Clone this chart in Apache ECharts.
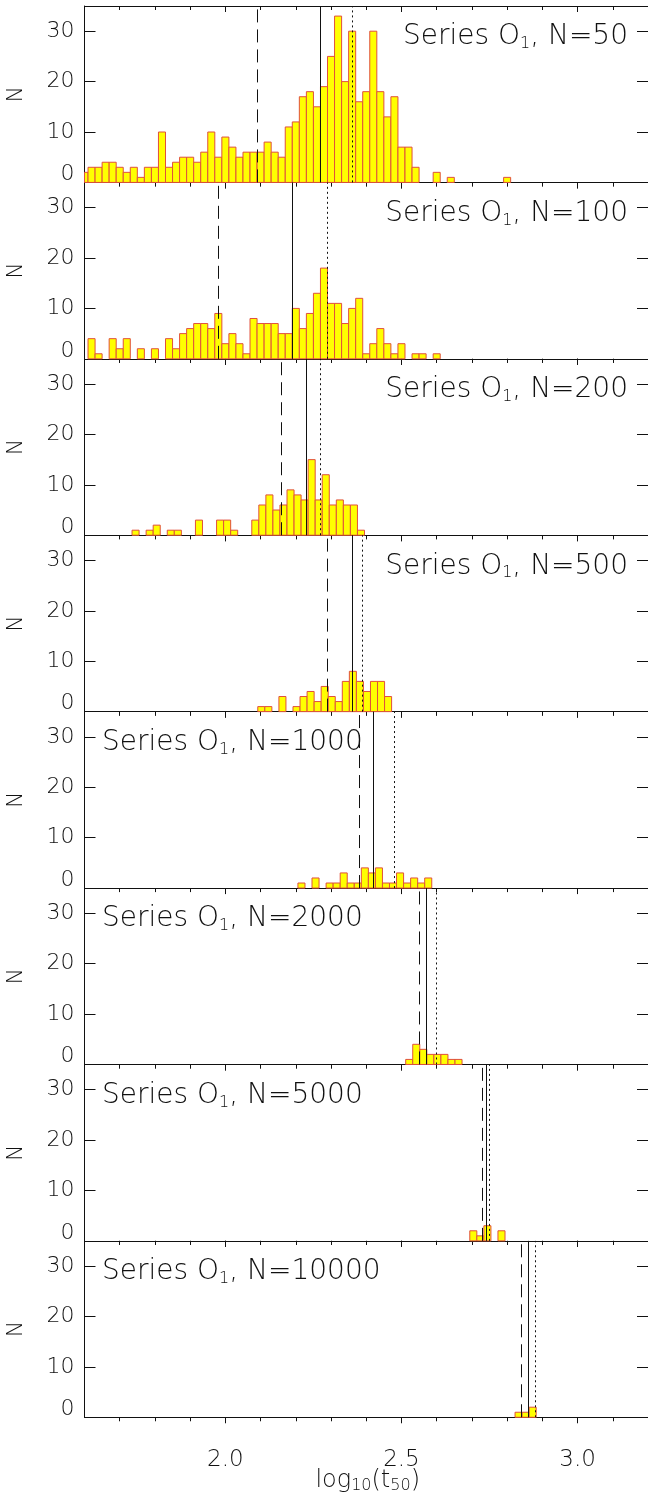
<!DOCTYPE html>
<html>
<head>
<meta charset="utf-8">
<title>t50 histograms</title>
<script src="https://cdn.jsdelivr.net/npm/echarts@6/dist/echarts.min.js"></script>
<style>
  html, body { margin: 0; padding: 0; background: #fff; }
  #main { width: 648px; height: 1498px; }
</style>
</head>
<body>
<div id="main"></div>
<script>
// 数据：每个面板的 N、第一个 bin 的左边界、各 bin 的计数
var panelN = [50, 100, 200, 500, 1000, 2000, 5000, 10000];
var binWidth = 0.02;
var binStart = [1.59, 1.61, 1.735, 2.092, 2.206, 2.512, 2.694, 2.8225];

var counts50 = [2,3,3,4,4,3,2,3,1,3, 3,10,3,4,5,5,4,6,10,5, 9,7,5,6,6,6,8,6,5,11,
                12,17,18,15,19,25,33,20,30,16, 18,30,18,13,17,7,7,3,0,0, 2,0,1,0,0,0,0,0,0,0, 1];
var counts100 = [4,1,0,4,2,4,0,2,0,2, 0,4,2,5,6,7,7,6,9,3, 5,3,1,8,7,7,7,5,5,10,
                 6,9,13,18,11,11,7,10,12,1, 3,6,3,1,3,0,1,1,0,1];
var counts200 = [1,0,1,2,0,1,1,0,0,3, 0,0,3,3,1,0,0,3,6,8, 5,6,9,8,7,15,7,12,6,7, 6,6,1];
var counts500 = [1,1,0,3,0,1,3,4,2,5, 3,2,6,8,6,4,6,6,3];
var counts1000 = [1,0,2,0,1,1,3,1,1,4, 3,4,1,1,3,1,2,1,2];
var counts2000 = [1,4,3,2,2,2,1,1];
var counts5000 = [2,1,3,0,2];
var counts10000 = [1,1,2];
var counts = [counts50, counts100, counts200, counts500, counts1000, counts2000, counts5000, counts10000];

// 竖线位置：虚线、实线、点线
var dashedX = [2.089, 1.983, 2.156, 2.291, 2.385, 2.552, 2.7275, 2.8375];
var solidX  = [2.273, 2.188, 2.228, 2.357, 2.419, 2.574, 2.7416, 2.857];
var dottedX = [2.356, 2.288, 2.274, 2.392, 2.479, 2.600, 2.750, 2.875];

// 刻度
var xTickLabels = [2.0, 2.5, 3.0];
var xMinorTicks = [1.7, 1.8, 1.9, 2.0, 2.1, 2.2, 2.3, 2.4, 2.5, 2.6, 2.7, 2.8, 2.9, 3.0, 3.1];
var yTickValues = [0, 10, 20, 30];

var FONT = 'DejaVu Sans';
var INK = '#111';
var panelTop = 6;
var panelH = 176.41;
var gridLeft = 84.5;
var gridW = 566.4;

var grids = [], xAxes = [], yAxes = [], series = [], graphics = [];
function ls() { return { color: INK, width: 1 }; }

// 直方图矩形，用坐标系换算
function renderBar(params, api) {
    var p0 = api.coord([api.value(0), 0]);
    var p1 = api.coord([api.value(1), api.value(2)]);
    var cs = params.coordSys;
    var rect = echarts.graphic.clipRectByRect(
        { x: p0[0], y: p1[1], width: p1[0] - p0[0], height: p0[1] - p1[1] },
        { x: cs.x, y: cs.y, width: cs.width, height: cs.height });
    if (!rect) return;
    return { type: 'rect', shape: rect, style: { fill: '#ffff00', stroke: '#e0503c', lineWidth: 1 } };
}

for (var i = 0; i < 8; i++) {
    var panelY = panelTop + panelH * i;
    grids.push({ left: gridLeft, top: panelY, width: gridW, height: panelH });

    var xa = xAxes.length;
    // 下边轴：细刻度 + 标签
    xAxes.push({
        type: 'value', gridIndex: i, min: 1.6, max: 3.2, position: 'bottom',
        axisLine: { show: true, lineStyle: ls() },
        axisTick: { show: true, inside: false, length: 4, customValues: xMinorTicks, lineStyle: ls() },
        axisLabel: {
            show: i === 7, customValues: xTickLabels, margin: 31,
            formatter: function (v) { return Number(v).toFixed(1); },
            fontFamily: FONT, fontSize: 23, fontWeight: 200, color: INK
        },
        splitLine: { show: false }
    });
    // 下边轴：主刻度
    xAxes.push({
        type: 'value', gridIndex: i, min: 1.6, max: 3.2, position: 'bottom',
        axisLine: { show: false },
        axisTick: { show: true, inside: false, length: 6, customValues: xTickLabels, lineStyle: ls() },
        axisLabel: { show: false }, splitLine: { show: false }
    });
    // 上边轴
    xAxes.push({
        type: 'value', gridIndex: i, min: 1.6, max: 3.2, position: 'top',
        axisLine: { show: true, lineStyle: ls() },
        axisTick: { show: true, inside: true, length: 4, customValues: xMinorTicks, lineStyle: ls() },
        axisLabel: { show: false }, splitLine: { show: false }
    });
    xAxes.push({
        type: 'value', gridIndex: i, min: 1.6, max: 3.2, position: 'top',
        axisLine: { show: false },
        axisTick: { show: true, inside: true, length: 6, customValues: xTickLabels, lineStyle: ls() },
        axisLabel: { show: false }, splitLine: { show: false }
    });

    var ya = yAxes.length;
    yAxes.push({
        type: 'value', gridIndex: i, min: 0, max: 35, position: 'left',
        axisLine: { show: true, lineStyle: ls() },
        axisTick: { show: true, inside: true, length: 11, customValues: yTickValues, lineStyle: ls() },
        axisLabel: {
            customValues: yTickValues, margin: 10,
            formatter: function (v) { return v === 0 ? '{z|0}' : String(v); },
            fontFamily: FONT, fontSize: 22, fontWeight: 200, color: INK,
            rich: { z: { padding: [0, 0, 16, 0], fontFamily: FONT, fontSize: 22, fontWeight: 200, color: INK } }
        },
        splitLine: { show: false }
    });
    yAxes.push({
        type: 'value', gridIndex: i, min: 0, max: 35, position: 'right',
        axisLine: { show: true, lineStyle: ls() },
        axisTick: { show: true, inside: true, length: 11, customValues: yTickValues, lineStyle: ls() },
        axisLabel: { show: false }, splitLine: { show: false }
    });

    // 直方图数据
    var data = [];
    for (var k = 0; k < counts[i].length; k++) {
        if (counts[i][k] > 0) {
            var x0 = binStart[i] + binWidth * k;
            data.push([x0, x0 + binWidth, counts[i][k]]);
        }
    }
    series.push({
        type: 'custom', xAxisIndex: xa, yAxisIndex: ya,
        renderItem: renderBar, encode: { x: [0, 1], y: 2 }, data: data,
        markLine: {
            silent: true, symbol: ['none', 'none'], label: { show: false },
            data: [
                { xAxis: dashedX[i], lineStyle: { color: INK, width: 1, type: [13, 7] } },
                { xAxis: solidX[i], lineStyle: { color: INK, width: 1, type: 'solid' } },
                { xAxis: dottedX[i], lineStyle: { color: INK, width: 1, type: [2, 3] } }
            ]
        }
    });

    // 面板标题（前四个靠右，后四个靠左）
    var alignRight = i < 4;
    graphics.push({
        type: 'text', x: alignRight ? 628 : 102, y: panelY + 31,
        style: {
            text: 'Series O{s|1}, N=' + panelN[i],
            fontFamily: FONT, fontSize: 28, fontWeight: 200, fill: INK,
            align: alignRight ? 'right' : 'left', verticalAlign: 'middle', lineHeight: 30,
            rich: { s: { fontFamily: FONT, fontSize: 16, fontWeight: 200, fill: INK, verticalAlign: 'bottom', lineHeight: 12 } }
        }
    });
    // y 轴名
    graphics.push({
        type: 'text', x: 16, y: panelY + panelH / 2, rotation: Math.PI / 2,
        style: { text: 'N', fontFamily: FONT, fontSize: 22, fontWeight: 200, fill: INK, align: 'center', verticalAlign: 'middle' }
    });
}

// x 轴名
graphics.push({
    type: 'text', x: gridLeft + gridW / 2, y: 1481,
    style: {
        text: 'log{s|10}(t{s|50})',
        fontFamily: FONT, fontSize: 24, fontWeight: 200, fill: INK,
        align: 'center', verticalAlign: 'middle', lineHeight: 26,
        rich: { s: { fontFamily: FONT, fontSize: 16, fontWeight: 200, fill: INK, verticalAlign: 'bottom', lineHeight: 10 } }
    }
});

var myChart = echarts.init(document.getElementById('main'));
myChart.setOption({
    animation: false,
    backgroundColor: '#fff',
    grid: grids,
    xAxis: xAxes,
    yAxis: yAxes,
    series: series,
    graphic: graphics
});
</script>
</body>
</html>
